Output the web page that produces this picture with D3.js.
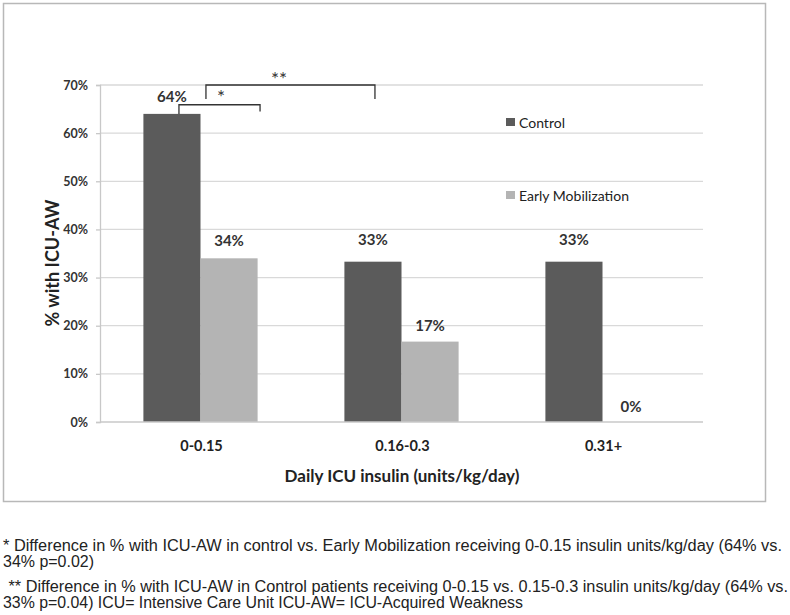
<!DOCTYPE html>
<html><head><meta charset="utf-8">
<script src="https://cdn.jsdelivr.net/npm/d3@7"></script>
<style>body{margin:0;background:#fff;}</style>
</head><body>
<svg id="c" width="790" height="615"></svg>
<script>
const categories = ["0-0.15", "0.16-0.3", "0.31+"];
const seriesNames = ["Control", "Early Mobilization"];
const control = [64, 33.3, 33.3];
const earlyMob = [34, 16.7, 0];
const controlLabels = ["64%", "33%", "33%"];
const earlyLabels = ["34%", "17%", "0%"];
const yTicks = [0, 10, 20, 30, 40, 50, 60, 70];
const footnotes = [
  "* Difference in % with ICU-AW in control vs. Early Mobilization receiving 0-0.15 insulin units/kg/day (64% vs.",
  "34% p=0.02)",
  " ** Difference in % with ICU-AW in Control patients receiving 0-0.15 vs. 0.15-0.3 insulin units/kg/day (64% vs.",
  "33% p=0.04) ICU= Intensive Care Unit ICU-AW= ICU-Acquired Weakness"
];
const colors = ["#5b5b5b", "#b4b4b4"];
const LATO = "Lato, 'Open Sans', sans-serif";

const svg = d3.select("#c");
svg.append("rect").attr("x", 3.5).attr("y", 3.5).attr("width", 762).attr("height", 498)
  .attr("fill", "#fff").attr("stroke", "#b8b8b8").attr("stroke-width", 1.5);

const L = 100, R = 703, T = 85, B = 422;
const x = d3.scaleBand().domain(categories).range([L, R]).paddingInner(0).paddingOuter(0);
const inner = d3.scaleBand().domain(seriesNames).range([0, x.bandwidth()]).paddingOuter(0.76).paddingInner(0);
const y = d3.scaleLinear().domain([0, 70]).range([B, T]);

// gridlines
svg.append("g").selectAll("line").data(yTicks.filter(d => d > 0)).join("line")
  .attr("x1", L).attr("x2", R).attr("y1", d => y(d)).attr("y2", d => y(d))
  .attr("stroke", "#d9d9d9").attr("stroke-width", 1.3);

// y axis
const yAxis = svg.append("g").attr("transform", `translate(${L},0)`)
  .call(d3.axisLeft(y).tickValues(yTicks).tickFormat(d => d + "%").tickSize(4).tickPadding(8));
yAxis.select(".domain").attr("stroke", "#c8c8c8").attr("stroke-width", 1.3);
yAxis.selectAll(".tick line").attr("stroke", "#c8c8c8").attr("stroke-width", 1.3);
yAxis.selectAll(".tick text").style("font-family", LATO).style("font-size", "12.5px").style("font-weight", "bold").attr("fill", "#333");

// bars
const data = categories.map((c, i) => ({c, vals: [control[i], earlyMob[i]], labs: [controlLabels[i], earlyLabels[i]]}));
const groups = svg.append("g").selectAll("g").data(data).join("g")
  .attr("transform", d => `translate(${x(d.c)},0)`);
groups.selectAll("rect").data(d => d.vals.map((v, j) => ({v, s: seriesNames[j], j}))).join("rect")
  .attr("x", d => inner(d.s)).attr("width", inner.bandwidth())
  .attr("y", d => y(d.v)).attr("height", d => B - y(d.v))
  .attr("fill", d => colors[d.j]);

// x axis line
svg.append("line").attr("x1", L).attr("x2", R).attr("y1", B).attr("y2", B)
  .attr("stroke", "#c8c8c8").attr("stroke-width", 1.5);

// data labels
const labelOffsets = [[-12, -12], [-17, -11], [-17, -10]];
groups.selectAll("text.lab").data((d, i) => d.vals.map((v, j) => ({v, s: seriesNames[j], lab: d.labs[j], i, j}))).join("text")
  .attr("class", "lab")
  .attr("x", d => inner(d.s) + inner.bandwidth() / 2)
  .attr("y", d => y(d.v) + labelOffsets[d.i][d.j])
  .attr("text-anchor", "middle").style("font-family", LATO).style("font-size", "15px").style("font-weight", "bold").attr("fill", "#333")
  .text(d => d.lab);

// x tick labels
svg.append("g").selectAll("text").data(categories).join("text")
  .attr("x", d => x(d) + x.bandwidth() / 2 + 1).attr("y", 451)
  .attr("text-anchor", "middle").style("font-family", LATO).style("font-size", "14.5px").style("font-weight", "bold").attr("fill", "#222")
  .text(d => d);

// axis titles
svg.append("text").attr("x", 402).attr("y", 482).attr("text-anchor", "middle")
  .style("font-family", LATO).style("font-size", "17px").style("font-weight", "bold").attr("fill", "#222")
  .text("Daily ICU insulin (units/kg/day)");
svg.append("text").attr("transform", "translate(59,263) rotate(-90)").attr("text-anchor", "middle")
  .style("font-family", LATO).style("font-size", "18px").style("font-weight", "bold").attr("fill", "#222")
  .text("% with ICU-AW");

// significance brackets
const bw = inner.bandwidth();
const c0 = x(categories[0]) + inner(seriesNames[0]) + bw / 2;
const e0 = x(categories[0]) + inner(seriesNames[1]) + bw / 2;
const c1 = x(categories[1]) + inner(seriesNames[0]) + bw / 2;
const bracket = (x1, x2, yTop, yL, yR) => `M${x1},${yL}V${yTop}H${x2}V${yR}`;
svg.append("path").attr("d", bracket(c0 + 7, e0 + 31, y(65.9), y(64), y(64.5)))
  .attr("fill", "none").attr("stroke", "#333").attr("stroke-width", 1.3);
svg.append("text").attr("x", 221).attr("y", y(65.9) - 1).attr("text-anchor", "middle")
  .style("font-family", LATO).style("font-size", "19px").attr("fill", "#333").text("*");
svg.append("path").attr("d", bracket(c0 + 34, c1 + 2, y(70), y(67.1), y(67.1)))
  .attr("fill", "none").attr("stroke", "#333").attr("stroke-width", 1.3);
svg.append("text").attr("x", 279).attr("y", y(70) + 1).attr("text-anchor", "middle")
  .style("font-family", LATO).style("font-size", "19px").attr("fill", "#333").text("**");

// legend
const leg = svg.append("g").selectAll("g").data(seriesNames).join("g")
  .attr("transform", (d, i) => `translate(506,${118 + i * 73})`);
leg.append("rect").attr("width", 9).attr("height", 8).attr("fill", (d, i) => colors[i]);
leg.append("text").attr("x", 13).attr("y", 9.5).style("font-family", LATO).style("font-size", "14px").attr("fill", "#222").text(d => d);

// footnotes
const fnY = [551, 567, 592, 608];
const fnWidth = [779, 91, 784, 520];
svg.append("g").selectAll("text").data(footnotes).join("text")
  .attr("x", (d, i) => i === 2 ? 4 : 3).attr("y", (d, i) => fnY[i])
  .style("font-family", "'Liberation Sans', Arial, sans-serif").style("font-size", "16px").attr("fill", "#222")
  .style("white-space", "pre")
  .attr("textLength", (d, i) => fnWidth[i]).attr("lengthAdjust", "spacingAndGlyphs")
  .text(d => d);
</script>
</body></html>
